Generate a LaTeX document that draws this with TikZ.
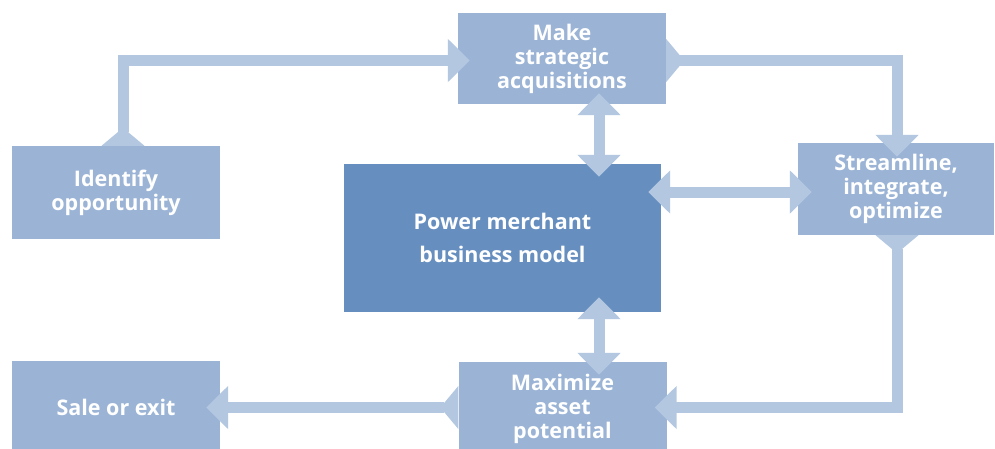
\documentclass[tikz,border=0pt]{standalone}
\usepackage{fontspec}
\setmainfont{Open Sans}
\usetikzlibrary{arrows.meta,calc}
\definecolor{boxblue}{RGB}{155,180,214}
\definecolor{hubblue}{RGB}{102,143,192}
\definecolor{flowblue}{RGB}{179,199,225}
\begin{document}
\begin{tikzpicture}[x=1pt, y=-1pt,
 every node/.style = {shape=rectangle, fill=boxblue, text=white, align=center,
   inner sep=0pt, font=\bfseries\fontsize{21.5}{24}\selectfont},
 box/.style = {minimum width=208pt, minimum height=93pt},
 hub/.style = {fill=hubblue, minimum width=317pt, minimum height=148pt},
 flow/.style = {draw=flowblue, line width=11pt,
   {Triangle[reversed,width=42pt,length=18pt]}-{Triangle[width=42pt,length=22pt]}},
 both/.style = {draw=flowblue, line width=11pt,
   {Triangle[width=42pt,length=22pt]}-{Triangle[width=42pt,length=22pt]}}]
 \useasboundingbox (0,0) rectangle (995,448);
 \node [box] (identify) at (116,192.5) {Identify\\opportunity};
 \node [box, minimum height=91pt] (make) at (562,58.5) {Make\\strategic\\acquisitions};
 \node [hub] (hub) at (502.5,238) {Power merchant\\[9pt]business model};
 \node [box, minimum width=196pt, minimum height=92pt] (streamline) at (896,189)
   {Streamline,\\integrate,\\optimize};
 \node [box] (sale) at (116,407.5) {Sale or exit};
 \node [box] (maximize) at (562.5,408.5) {Maximize\\asset\\potential};
 \draw [flow] ($(identify.north)+(7,0)$) |- ($(make.west)+(12,2)$);
 \draw [flow] ($(make.east)+(0,2)$) -| ($(streamline.north)+(1,14)$);
 \draw [both] ($(make.south)+(37,-11)$) -- ($(hub.north)+(96.5,13)$);
 \draw [both] ($(hub.east|-streamline.west)+(-13,3)$) -- ($(streamline.west)+(14,3)$);
 \draw [both] ($(hub.south)+(96.5,-15)$) -- ($(maximize.north)+(36.5,13)$);
 \draw [flow] ($(streamline.south)+(1,0)$) |- ($(maximize.east)+(-12,-1)$);
 \draw [flow] ($(maximize.west)+(0,-1)$) -- ($(sale.east|-maximize.west)+(-14,-1)$);
\end{tikzpicture}
\end{document}
